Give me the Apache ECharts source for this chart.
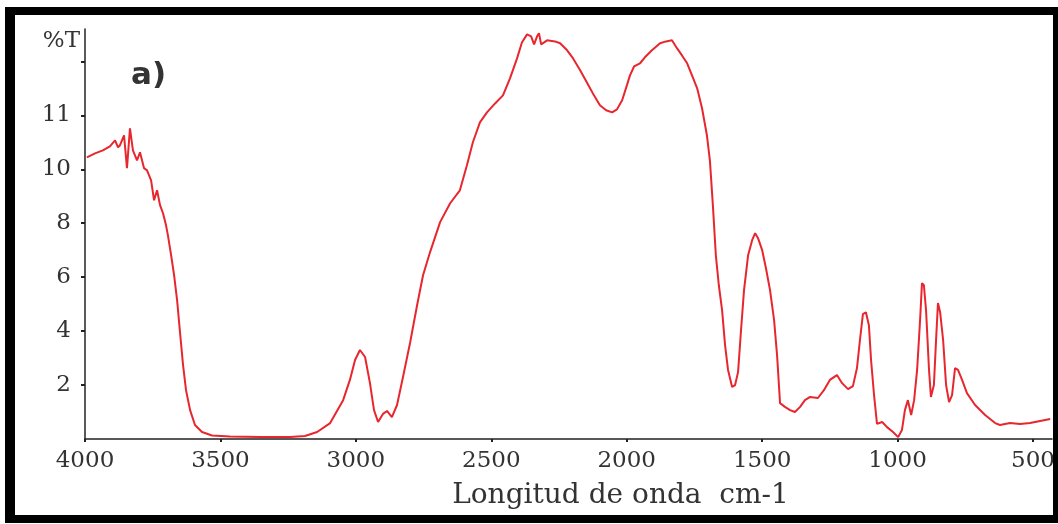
<!DOCTYPE html>
<html>
<head>
<meta charset="utf-8">
<script src="https://cdn.jsdelivr.net/npm/echarts@6.0.0/dist/echarts.min.js"></script>
<style>
  html, body { margin: 0; padding: 0; background: #fff; }
  #chart { width: 1058px; height: 524px; }
</style>
</head>
<body>
<div id="chart"></div>
<script>
// IR spectrum, wavenumber (cm-1) vs %T
var wavenumber = [3993,3963,3934,3908,3889,3878,3871,3856,3845,3834,
    3823,3808,3797,3782,3771,3756,3745,3734,3723,3712,
    3701,3694,3682,3671,3660,3649,3638,3627,3612,3594,
    3568,3531,3465,3354,3243,3188,3143,3095,3047,3022,
    3003,2985,2966,2948,2933,2918,2900,2885,2867,2848,
    2826,2800,2774,2752,2726,2689,2652,2616,2590,2568,
    2542,2516,2486,2457,2431,2405,2387,2368,2353,2342,
    2331,2324,2316,2294,2265,2246,2220,2198,2172,2147,
    2121,2099,2076,2054,2036,2017,2003,1988,1973,1951,
    1933,1907,1877,1855,1833,1814,1796,1777,1759,1740,
    1722,1704,1693,1682,1671,1660,1648,1637,1626,1611,
    1600,1589,1578,1567,1552,1537,1526,1515,1500,1486,
    1471,1456,1445,1434,1416,1397,1379,1360,1342,1323,
    1294,1272,1250,1224,1205,1183,1165,1150,1139,1128,
    1117,1106,1098,1087,1076,1057,1039,1017,998,984,
    973,962,950,939,928,917,910,903,895,884,
    877,866,858,851,843,832,821,810,799,788,
    777,762,744,714,677,640,622,585,548,511,
    474,437];

var transmittance = [10.44,10.59,10.70,10.85,11.07,10.81,10.89,11.26,10.04,11.52,
    10.70,10.33,10.63,10.04,9.96,9.59,8.85,9.22,8.67,8.37,
    7.93,7.56,6.81,6.07,5.15,3.93,2.74,1.81,1.07,0.52,
    0.26,0.13,0.09,0.07,0.07,0.11,0.26,0.59,1.44,2.19,
    2.93,3.30,3.04,2.07,1.07,0.63,0.93,1.04,0.81,1.26,
    2.30,3.56,4.96,6.07,6.93,8.04,8.74,9.22,10.15,11.00,
    11.74,12.11,12.44,12.74,13.37,14.11,14.70,15.00,14.93,14.63,
    14.93,15.04,14.63,14.78,14.74,14.67,14.41,14.11,13.67,13.22,
    12.74,12.37,12.19,12.11,12.22,12.56,13.00,13.48,13.81,13.93,
    14.15,14.41,14.67,14.74,14.78,14.48,14.22,13.93,13.48,13.00,
    12.26,11.26,10.33,8.67,6.81,5.70,4.78,3.48,2.56,1.93,
    2.00,2.48,4.04,5.52,6.81,7.37,7.63,7.44,7.00,6.33,
    5.52,4.41,3.11,1.33,1.19,1.07,1.00,1.19,1.44,1.56,
    1.52,1.81,2.19,2.37,2.07,1.85,1.96,2.63,3.67,4.63,
    4.70,4.22,2.93,1.63,0.56,0.63,0.44,0.26,0.07,0.33,
    1.07,1.44,0.89,1.44,2.56,4.41,5.78,5.70,4.78,2.56,
    1.56,2.00,3.67,5.04,4.70,3.67,2.00,1.37,1.63,2.63,
    2.56,2.19,1.70,1.26,0.89,0.59,0.52,0.59,0.56,0.59,
    0.67,0.74];

var xTicks = [4000, 3500, 3000, 2500, 2000, 1500, 1000, 500];
var yTicks = [2, 4, 6, 8, 10, 12, 14];
var yTickText = ['2', '4', '6', '8', '10', '11', ''];

function make_data(xs, ys) {
    var out = [];
    for (var i = 0; i < xs.length; i++) {
        out.push([xs[i], ys[i]]);
    }
    return out;
}

var chart = echarts.init(document.getElementById('chart'));

var axisColor = '#222';
var textColor = '#333';
var serif = '"DejaVu Serif", serif';

chart.setOption({
    animation: false,
    backgroundColor: '#fff',
    grid: {left: 85, right: 6, top: 29, bottom: 85},
    xAxis: {
        type: 'value',
        inverse: true,
        min: 430,
        max: 4000,
        name: 'Longitud de onda  cm-1',
        nameLocation: 'middle',
        nameGap: 43,
        nameTextStyle: {fontFamily: serif, fontSize: 28, color: textColor, padding: [0, 0, 0, 104]},
        splitLine: {show: false},
        axisLine: {lineStyle: {color: axisColor, width: 1.5}},
        axisTick: {customValues: xTicks, length: 3, lineStyle: {color: axisColor, width: 2}},
        axisLabel: {
            customValues: xTicks,
            margin: 11,
            fontFamily: serif,
            fontSize: 23,
            color: textColor,
            formatter: function (v) { return String(v); }
        }
    },
    yAxis: {
        type: 'value',
        min: 0,
        max: 15.2,
        name: '%T',
        nameLocation: 'end',
        nameGap: -12,
        nameTextStyle: {fontFamily: serif, fontSize: 23, color: textColor,
            align: 'right', verticalAlign: 'middle', padding: [0, 5, 0, 0]},
        splitLine: {show: false},
        axisLine: {lineStyle: {color: axisColor, width: 1.5}},
        axisTick: {customValues: yTicks, length: 4, lineStyle: {color: axisColor, width: 2}},
        axisLabel: {
            customValues: yTicks,
            margin: 14,
            fontFamily: serif,
            fontSize: 23,
            color: textColor,
            formatter: function (v) {
                var i = yTicks.indexOf(v);
                return i >= 0 ? yTickText[i] : '';
            }
        }
    },
    series: [{
        type: 'line',
        data: make_data(wavenumber, transmittance),
        showSymbol: false,
        clip: true,
        lineStyle: {color: '#e8262e', width: 2}
    }],
    graphic: [
        {type: 'text', left: 131, top: 60, z: 100,
            style: {text: 'a)', font: 'bold 31px "DejaVu Sans", sans-serif', fill: '#333'}},
        // black frame
        {type: 'rect', z: 100, shape: {x: 5, y: 7, width: 1053, height: 8}, style: {fill: '#000'}},
        {type: 'rect', z: 100, shape: {x: 5, y: 7, width: 10, height: 516}, style: {fill: '#000'}},
        {type: 'rect', z: 100, shape: {x: 1053, y: 7, width: 5, height: 516}, style: {fill: '#000'}},
        {type: 'rect', z: 100, shape: {x: 5, y: 515, width: 1053, height: 8}, style: {fill: '#000'}}
    ]
});
</script>
</body>
</html>
